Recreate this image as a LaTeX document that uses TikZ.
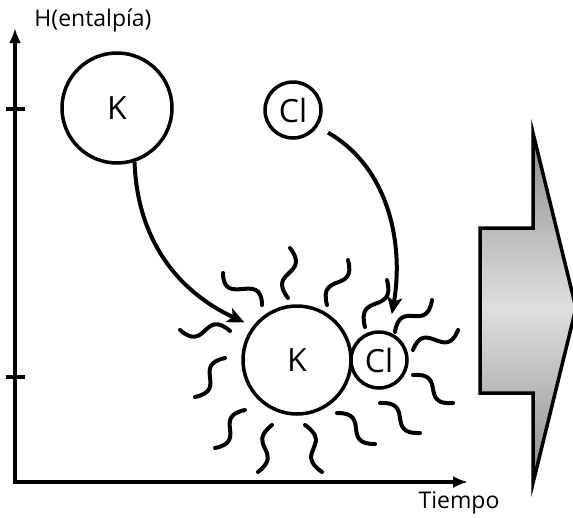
\documentclass[tikz,border=0pt]{standalone}
\usepackage{fontspec}
\setmainfont{Open Sans}
\usetikzlibrary{arrows.meta,calc,positioning}

\begin{document}
\begin{tikzpicture}[x=1pt,y=1pt,
	eje/.style={line width=4pt,{Latex[length=15pt,width=12pt]}-{Latex[length=15pt,width=12pt]}},
	ion/.style={circle,draw,line width=3.5pt,inner sep=0pt,font=\fontsize{32}{34}\selectfont},
	flecha/.style={line width=4pt,-{Stealth[length=17pt,width=15pt,inset=4pt]}},
	onda/.style={line width=4pt,line cap=round},
	wave/.style={to path={.. controls ($(\tikztostart)!0.7!#1:(\tikztotarget)$) and ($(\tikztotarget)!0.7!#1:(\tikztostart)$) .. (\tikztotarget)}},
	rotulo/.style={font=\fontsize{23}{26}\selectfont},
	bloque/.style={draw=black,line width=3.5pt,top color=gray!90,bottom color=gray!90,middle color=gray!25}]
			\useasboundingbox (0,0) rectangle (573,-517);
			% Ejes
			\coordinate (origen) at (15,-482);
			\coordinate (ytop) at (15,-28);
			\coordinate (xend) at (468,-482);
			\draw[eje] (ytop) -- (origen) -- (xend);
			\foreach \y in {109,377}
			\draw[line width=4pt] (6,-\y) -- (25,-\y);
			\node[rotulo] (entalpia) at (93,-20) {H(entalpía)};
			\node[rotulo] (tiempo) at (459,-503) {Tiempo};
			% Iones
			\node[ion,minimum size=110pt] (kArriba) at (117,-108) {K};
			\node[ion,minimum size=56pt] (clArriba) at (293,-110) {Cl};
			\node[ion,minimum size=108pt] (kAbajo) at (297,-360) {K};
			\node[ion,minimum size=56pt,right=-3.5pt of kAbajo] (clAbajo) {Cl};
			\draw[flecha] (kArriba.-72) to[out=-88,in=155] ([shift={(-8,4)}]kAbajo.143);
			\draw[flecha,shorten <=12pt,shorten >=18pt] (clArriba.-34) to[out=-30,in=80] (clAbajo.71);
			% Agua
			\foreach \xa/\ya/\xb/\yb/\g in {223/273/262/305/-50, 290/248/288/298/40, 348/260/327/305/40,
				387/280/365/327/40, 432/300/395/332/40, 458/330/413/350/45, 413/375/453/403/40,
				380/403/420/433/40, 337/413/375/444/40, 305/425/322/472/35, 272/425/258/472/-35,
				245/410/215/448/-40, 225/358/195/397/-40, 180/330/230/331/-40}
			\draw[onda] (\xa,-\ya) to[wave=\g] (\xb,-\yb);
			% Flecha grande
			\path[bloque] (480,-228) -- (533,-228) -- (533,-133) -- (576,-308) -- (533,-483)
				-- (533,-393) -- (480,-393) -- cycle;
\end{tikzpicture}
\end{document}
